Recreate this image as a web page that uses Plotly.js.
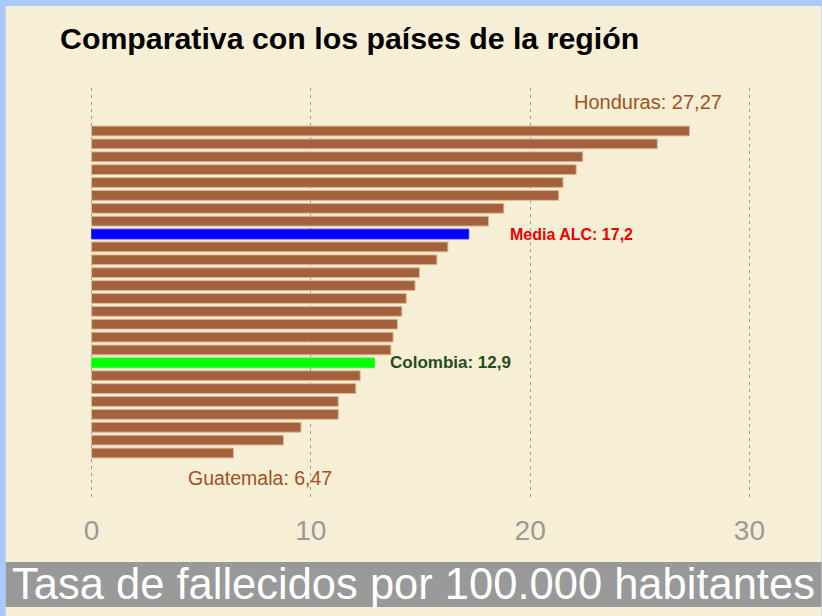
<!DOCTYPE html>
<html>
<head>
<meta charset="utf-8">
<script src="https://cdn.plot.ly/plotly-3.0.1.min.js"></script>
<style>
  html, body { margin: 0; padding: 0; background: #A9C9FF; }
  #chart { width: 822px; height: 616px; }
</style>
</head>
<body>
<div id="chart"></div>
<script>
// ---- Data (top to bottom) ----
const countries = ["Honduras", "", "", "", "", "", "", "", "Media ALC", "", "", "", "", "", "", "", "", "", "Colombia", "", "", "", "", "", "", "Guatemala"];
const rates = [27.27, 25.8, 22.4, 22.1, 21.5, 21.3, 18.8, 18.1, 17.2, 16.25, 15.75, 14.95, 14.75, 14.35, 14.15, 13.95, 13.75, 13.65, 12.9, 12.25, 12.05, 11.25, 11.25, 9.55, 8.75, 6.47];
const xTicks = [0, 10, 20, 30];
const titleText = "Comparativa con los países de la región";
const axisCaption = "Tasa de fallecidos por 100.000 habitantes";
const labelHonduras = "Honduras: 27,27";
const labelMedia = "Media ALC: 17,2";
const labelColombia = "Colombia: 12,9";
const labelGuatemala = "Guatemala: 6,47";

// ---- Layout helpers ----
const W = 822, H = 616;
const M = { l: 85.4, r: 65.5, t: 88, b: 116, pad: 0 };
const px = x => (x - M.l) / (W - M.l - M.r);
const py = y => (H - M.b - y) / (H - M.t - M.b);

const ranks = rates.map((_, i) => i + 1);
const colors = countries.map(c => c === "Media ALC" ? "#0000FF" : (c === "Colombia" ? "#00FF00" : "#A3613C"));
const lineColors = countries.map(c => c === "Media ALC" ? "#2a2aff" : (c === "Colombia" ? "#33ff33" : "#DDB896"));

const trace = {
  type: "bar",
  orientation: "h",
  x: rates,
  y: ranks,
  width: 0.76,
  marker: { color: colors, line: { color: lineColors, width: 1 } },
  hoverinfo: "skip"
};

const layout = {
  width: W, height: H,
  margin: M,
  paper_bgcolor: "#A9C9FF",
  plot_bgcolor: "rgba(0,0,0,0)",
  showlegend: false,
  hovermode: false,
  font: { family: "Liberation Sans, Arial, sans-serif" },
  xaxis: {
    range: [-0.3, 30.3],
    tickvals: xTicks,
    ticktext: xTicks.map(String),
    showgrid: true,
    gridcolor: "#9a9a9a",
    griddash: "3px,4px",
    gridwidth: 1,
    zeroline: false,
    showline: false,
    ticks: "outside",
    ticklen: 5,
    tickcolor: "rgba(0,0,0,0)",
    tickfont: { family: "Liberation Sans Narrow, Arial Narrow, sans-serif", size: 28, color: "#9a9a9a" },
    fixedrange: true
  },
  yaxis: {
    range: [29.65, -2.34],
    showgrid: false,
    zeroline: false,
    showticklabels: false,
    ticks: "",
    fixedrange: true
  },
  shapes: [
    { type: "rect", xref: "paper", yref: "paper", layer: "below",
      x0: px(6), x1: px(822), y0: py(616), y1: py(6),
      fillcolor: "#F6EED5", line: { width: 0 } },
    { type: "rect", xref: "paper", yref: "paper", layer: "above",
      x0: px(6), x1: px(822), y0: py(607), y1: py(562),
      fillcolor: "#999999", line: { width: 0 } }
  ],
  annotations: [
    { xref: "paper", yref: "paper", x: px(58), y: py(38), xanchor: "left", yanchor: "middle",
      text: "<b>" + titleText + "</b>", showarrow: false,
      font: { family: "Liberation Sans, Arial, sans-serif", size: 30.3, color: "#000000" } },
    { xref: "paper", yref: "paper", x: px(414), y: py(584), xanchor: "center", yanchor: "middle",
      text: axisCaption, showarrow: false,
      font: { family: "Liberation Sans, Arial, sans-serif", size: 43.5, color: "#ffffff" } },
    { xref: "x", yref: "y", x: 21.9, y: -1.25, xanchor: "left", yanchor: "middle",
      text: labelHonduras, showarrow: false,
      font: { family: "Liberation Sans, Arial, sans-serif", size: 20, color: "#A0521D" } },
    { xref: "x", yref: "y", x: 18.97, y: 9, xanchor: "left", yanchor: "middle",
      text: "<b>" + labelMedia + "</b>", showarrow: false,
      font: { family: "Liberation Sans, Arial, sans-serif", size: 16, color: "#EE0000" } },
    { xref: "x", yref: "y", x: 13.5, y: 19, xanchor: "left", yanchor: "middle",
      text: "<b>" + labelColombia + "</b>", showarrow: false,
      font: { family: "Liberation Sans, Arial, sans-serif", size: 17, color: "#1E4D1E" } },
    { xref: "x", yref: "y", x: 4.29, y: 27.94, xanchor: "left", yanchor: "middle",
      text: labelGuatemala, showarrow: false,
      font: { family: "Liberation Sans, Arial, sans-serif", size: 19.5, color: "#A0521D" } }
  ]
};

Plotly.newPlot("chart", [trace], layout, { staticPlot: true, displayModeBar: false });
</script>
</body>
</html>
